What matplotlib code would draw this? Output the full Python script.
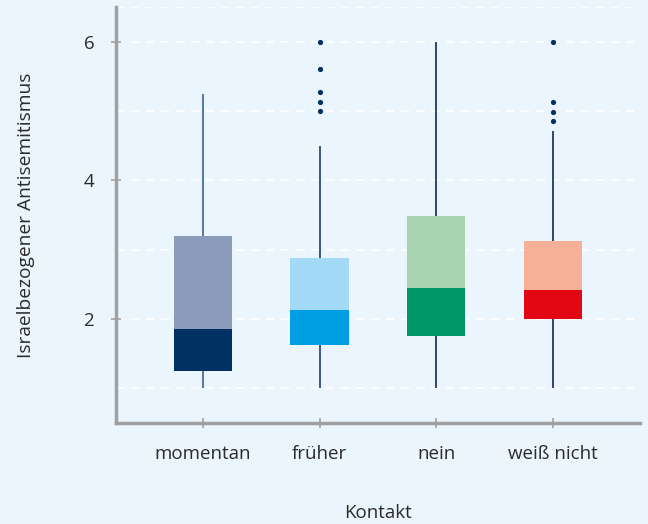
import matplotlib
matplotlib.use("Agg")
import matplotlib.pyplot as plt

categories = ["momentan", "früher", "nein", "weiß nicht"]
q1 = [1.25, 1.62, 1.76, 2.0]
median = [1.855, 2.13, 2.45, 2.42]
q3 = [3.19, 2.88, 3.49, 3.13]
whisker_low = [1.0, 1.0, 1.0, 1.0]
whisker_high = [5.24, 4.5, 6.0, 4.71]
outliers = [[], [6.0, 5.6, 5.27, 5.13, 5.0], [], [6.0, 5.13, 4.99, 4.85]]
lower_colors = ["#003064", "#009FE3", "#009767", "#E30613"]
upper_colors = ["#8C9ABB", "#A2DAF7", "#A7D3AE", "#F6B097"]
whisker_colors = ["#4A6C9B", "#2C4A75", "#1D3A66", "#1D3A66"]
yticks = [2, 4, 6]
grid_values = [1, 2, 3, 4, 5, 6, 6.5]

plt.rcParams['font.family'] = ['Open Sans', 'DejaVu Sans']
bg = "#EAF5FD"
fig = plt.figure(figsize=(6.48, 5.24), dpi=100, facecolor=bg)
ax = fig.add_axes([0.1786, 0.1927, 0.8091, 0.794])
ax.set_facecolor(bg)

for g in grid_values:
    ax.axhline(g, color="white", lw=1.2, ls=(0, (5, 4)), zorder=0)

x = list(range(len(categories)))
for i in x:
    ax.vlines(i, whisker_low[i], whisker_high[i], color=whisker_colors[i], lw=1.3, zorder=1)
ax.bar(x, [m - a for m, a in zip(median, q1)], bottom=q1, width=0.5, color=lower_colors, zorder=2)
ax.bar(x, [b - m for b, m in zip(q3, median)], bottom=median, width=0.5, color=upper_colors, zorder=2)
for i in x:
    if outliers[i]:
        ax.scatter([i] * len(outliers[i]), outliers[i], s=14, color="#003064", zorder=3, linewidths=0)

ax.set_xlim(-0.75, 3.75)
ax.set_ylim(0.5, 6.5)
ax.set_xticks(x)
ax.set_xticklabels(categories)
ax.set_yticks(yticks)
ax.set_yticklabels([str(t) for t in yticks])
for s in ["top", "right"]:
    ax.spines[s].set_visible(False)
for s in ["left", "bottom"]:
    ax.spines[s].set_color("#A0A0A0")
    ax.spines[s].set_linewidth(2.5)
ax.tick_params(axis="both", direction="inout", length=7, width=1.2, color="#A0A0A0",
               labelsize=13.5, labelcolor="#2B2B2B")
ax.tick_params(axis="x", pad=12)
ax.tick_params(axis="y", pad=12)
ax.set_xlabel("Kontakt", fontsize=13.5, color="#2B2B2B", labelpad=30)
ax.set_ylabel("Israelbezogener Antisemitismus", fontsize=13.8, color="#2B2B2B", labelpad=35)

fig.savefig("out.png", dpi=100, facecolor=bg)
